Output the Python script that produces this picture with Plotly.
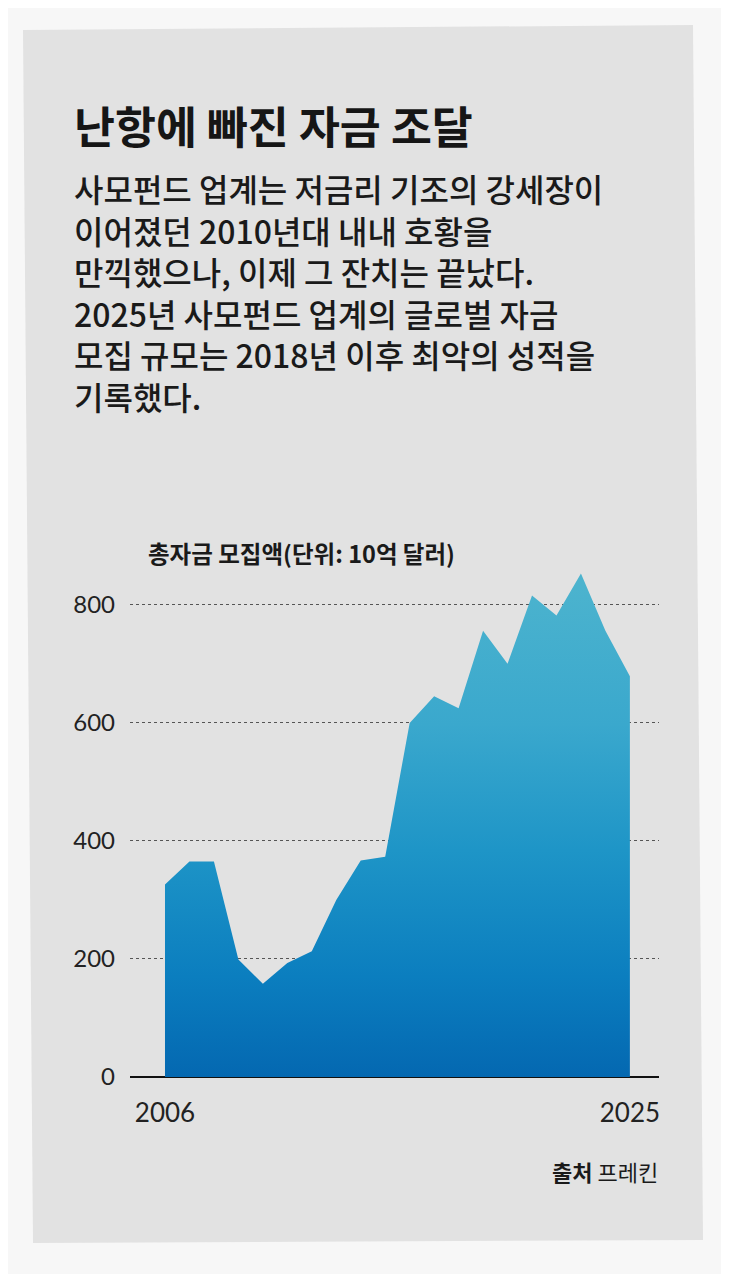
import plotly.graph_objects as go

# 연도별 글로벌 사모펀드 총자금 모집액 (단위: 10억 달러)
years = list(range(2006, 2026))
raised = [326, 365, 365, 199, 158, 193, 213, 300, 367, 373,
          600, 645, 625, 756, 700, 816, 782, 853, 756, 679]

y_ticks = [0, 200, 400, 600, 800]
x_ticks = [2006, 2025]

title = '난항에 빠진 자금 조달'
body_lines = [
    '사모펀드 업계는 저금리 기조의 강세장이',
    '이어졌던 2010년대 내내 호황을',
    '만끽했으나, 이제 그 잔치는 끝났다.',
    '2025년 사모펀드 업계의 글로벌 자금',
    '모집 규모는 2018년 이후 최악의 성적을',
    '기록했다.',
]
axis_label = '총자금 모집액(단위: 10억 달러)'
source = '<b>출처</b> 프레킨'

W, H = 729, 1274
OFF = 8  # 페이지 기본 여백만큼 당겨서 배치
ML, MT = 130 - OFF, 560 - OFF
MR, MB = W - (659 - OFF), H - (1077 - OFF)
PW, PH = W - ML - MR, H - MT - MB


def px(x):
    return (x - OFF - ML) / PW


def py(y):
    return 1 - (y - OFF - MT) / PH


KR = 'Noto Sans CJK KR'
NUM = 'Lato, Open Sans, sans-serif'

fig = go.Figure()
fig.add_trace(go.Scatter(
    x=years, y=raised, mode='lines', fill='tozeroy',
    line=dict(width=0),
    fillgradient=dict(
        type='vertical',
        colorscale=[[0, '#0468b1'], [0.2, '#0b7ebf'], [0.45, '#1e95c7'],
                    [0.7, '#3aa8cd'], [1, '#4db4ce']],
    ),
    hoverinfo='x+y', showlegend=False,
))

# 배경 패널 (스캔본처럼 살짝 기울어짐)
panel = 'M {} {} L {} {} L {} {} L {} {} Z'.format(
    px(23), py(30), px(693), py(25), px(703), py(1240), px(33), py(1243))
fig.add_shape(type='path', path=panel, xref='paper', yref='paper',
              fillcolor='#e2e2e2', line=dict(width=0), layer='below')

fig.add_annotation(text='<b>' + title + '</b>', x=px(72), y=py(124),
                   xref='paper', yref='paper', xanchor='left', yanchor='middle',
                   showarrow=False, font=dict(family=KR, size=44.5, color='#161616'))

fig.add_annotation(text='<br>'.join(body_lines), x=px(72), y=py(291.5),
                   xref='paper', yref='paper', xanchor='left', yanchor='middle',
                   align='left', showarrow=False,
                   font=dict(family=KR, size=32, color='#1a1a1a', weight=500))

fig.add_annotation(text='<b>' + axis_label + '</b>', x=px(146), y=py(553),
                   xref='paper', yref='paper', xanchor='left', yanchor='middle',
                   showarrow=False, font=dict(family=KR, size=23.5, color='#1a1a1a'))

fig.add_annotation(text=source, x=px(660), y=py(1171),
                   xref='paper', yref='paper', xanchor='right', yanchor='middle',
                   showarrow=False, font=dict(family=KR, size=22, color='#1a1a1a'))

fig.update_layout(
    width=W, height=H,
    margin=dict(l=ML, r=MR, t=MT, b=MB),
    paper_bgcolor='#f7f7f7', plot_bgcolor='rgba(0,0,0,0)',
    xaxis=dict(range=[2004.57, 2026.19], tickvals=x_ticks, showgrid=False,
               zeroline=False, showline=False, ticks='', ticklabelstandoff=18,
               tickfont=dict(family=NUM, size=26, color='#222')),
    yaxis=dict(range=[0, 876], tickvals=y_ticks, showgrid=True, griddash='dot',
               gridcolor='#555', gridwidth=1, zeroline=True, zerolinecolor='#111',
               zerolinewidth=1.5, showline=False, ticks='', ticklabelstandoff=14,
               tickfont=dict(family=NUM, size=24, color='#222')),
)

fig.write_html('out.html')
